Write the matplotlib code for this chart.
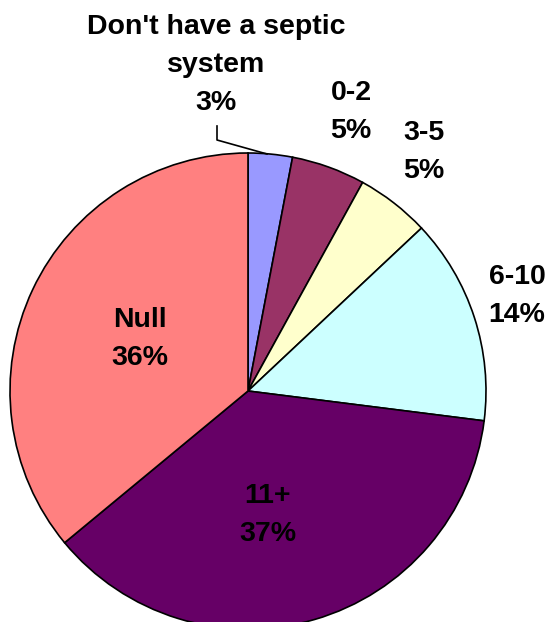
import matplotlib.pyplot as plt

# septic system age breakdown
categories = ["Don't have a septic\nsystem", "0-2", "3-5", "6-10", "11+", "Null"]
shares = [3, 5, 5, 14, 37, 36]
colors = ['#9999FF', '#993366', '#FFFFCC', '#CCFFFF', '#660066', '#FF8080']

# centre of each label's first line (pixel space, y down)
label_pos = [(216, 27), (351, 93), (424, 133), (517, 277), (268, 496), (140, 320)]
line_step = 37.8

plt.rcParams['font.family'] = ['Liberation Sans', 'DejaVu Sans']

W, H = 549, 622
fig = plt.figure(figsize=(W / 100, H / 100), dpi=100)
ax = fig.add_axes([0, 0, 1, 1])

cx, cy, r = 248, H - 391, 238
wedges, _ = ax.pie(shares, colors=colors, startangle=90, counterclock=False,
                   center=(cx, cy), radius=r, frame=True,
                   wedgeprops=dict(edgecolor='black', linewidth=1.2))
ax.set_xlim(0, W)
ax.set_ylim(0, H)
ax.set_aspect('equal')
ax.axis('off')

# one text per line so the blocks keep tight boxes
for cat, val, (x, y) in zip(categories, shares, label_pos):
    lines = cat.split('\n') + [f"{val}%"]
    for i, line in enumerate(lines):
        ax.text(x, H - (y + i * line_step), line, ha='center', va='center',
                fontsize=20.5, fontweight='bold')

# leader line for the small slice
ax.plot([217, 217, 267], [H - 126, H - 140, H - 154], color='black', lw=1.2)

fig.savefig('out.png', dpi=100)
